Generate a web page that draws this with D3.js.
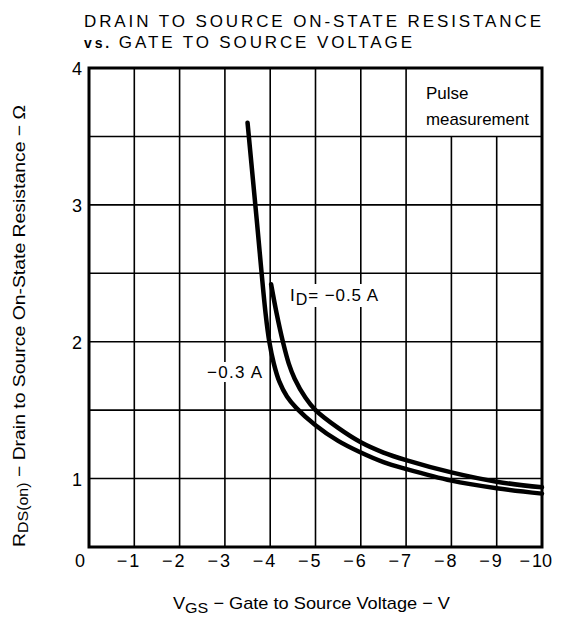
<!DOCTYPE html>
<html>
<head>
<meta charset="utf-8">
<script src="https://d3js.org/d3.v7.min.js"></script>
<style>
  body { margin: 0; background: #fff; }
  svg { display: block; font-family: "Liberation Sans", Arial, Helvetica, sans-serif; }
</style>
</head>
<body>
<svg id="chart" width="563" height="620"></svg>
<script>
// data
const vgsLow = [-3.5, -3.7, -3.9, -3.98, -4.08, -4.2, -4.37, -4.58, -5, -5.5, -6, -6.5, -7, -8, -9, -10];
const rdsLow = [3.6, 2.9, 2.2, 2.0, 1.84, 1.71, 1.6, 1.515, 1.39, 1.275, 1.19, 1.12, 1.07, 0.985, 0.93, 0.89];
const vgsHigh = [-4.02, -4.14, -4.28, -4.41, -4.54, -4.78, -5.0, -5.5, -6, -6.5, -7, -8, -9, -10];
const rdsHigh = [2.42, 2.21, 2.0, 1.84, 1.73, 1.59, 1.5, 1.37, 1.265, 1.19, 1.135, 1.045, 0.977, 0.936];
const xTicks = [0, -1, -2, -3, -4, -5, -6, -7, -8, -9, -10];
const yTicks = [1, 2, 3, 4];
const yGrid = [1, 1.5, 2, 2.5, 3, 3.5];

const svg = d3.select("#chart");
const pl = 89, pr = 542, pt = 68, pb = 547;

const x = d3.scaleLinear().domain([0, -10]).range([pl, pr]);
const y = d3.scaleLinear().domain([0.5, 4]).range([pb, pt]);

// title
svg.append("text").attr("x", 84).attr("y", 27)
  .attr("font-size", 17).attr("textLength", 457).attr("lengthAdjust", "spacing")
  .text("DRAIN TO SOURCE ON-STATE RESISTANCE");
const t2 = svg.append("text").attr("x", 84).attr("y", 48)
  .attr("font-size", 17).attr("textLength", 328).attr("lengthAdjust", "spacing");
t2.append("tspan").attr("font-size", 14).attr("font-weight", "bold").text("vs. ");
t2.append("tspan").text("GATE TO SOURCE VOLTAGE");

// grid
const grid = svg.append("g").attr("stroke", "#000").attr("stroke-width", 1.6);
grid.selectAll("line.h").data(yGrid).enter().append("line")
  .attr("x1", pl).attr("x2", pr)
  .attr("y1", d => y(d)).attr("y2", d => y(d));
grid.selectAll("line.v").data(xTicks.slice(1, 10)).enter().append("line")
  .attr("x1", d => x(d)).attr("x2", d => x(d))
  .attr("y1", d => d <= -8 ? y(3.5) : pt).attr("y2", pb);

// frame
svg.append("rect").attr("x", pl).attr("y", pt)
  .attr("width", pr - pl).attr("height", pb - pt)
  .attr("fill", "none").attr("stroke", "#000").attr("stroke-width", 3);

// curves
const line = d3.line().x(d => x(d[0])).y(d => y(d[1])).curve(d3.curveCatmullRom.alpha(0.5));
svg.append("path").datum(d3.zip(vgsLow, rdsLow))
  .attr("d", line).attr("fill", "none").attr("stroke", "#000")
  .attr("stroke-width", 4.5).attr("stroke-linecap", "round");
svg.append("path").datum(d3.zip(vgsHigh, rdsHigh))
  .attr("d", line).attr("fill", "none").attr("stroke", "#000")
  .attr("stroke-width", 4.5).attr("stroke-linecap", "round");

// curve labels with white backing
const lab05 = svg.append("g");
lab05.append("rect").attr("x", 287).attr("y", 284).attr("width", 96).attr("height", 23).attr("fill", "#fff");
const t05 = lab05.append("text").attr("x", 290).attr("y", 301).attr("font-size", 17)
  .attr("textLength", 88).attr("lengthAdjust", "spacing");
t05.append("tspan").text("I");
t05.append("tspan").attr("font-size", 16).attr("dy", 4).text("D");
t05.append("tspan").attr("dy", -4).text("= −0.5 A");

const lab03 = svg.append("g");
lab03.append("rect").attr("x", 205).attr("y", 362).attr("width", 60).attr("height", 20).attr("fill", "#fff");
lab03.append("text").attr("x", 207).attr("y", 378).attr("font-size", 17)
  .attr("textLength", 55).attr("lengthAdjust", "spacing").text("−0.3 A");

svg.append("text").attr("x", 426).attr("y", 99).attr("font-size", 17).text("Pulse");
svg.append("text").attr("x", 426).attr("y", 125).attr("font-size", 17)
  .attr("textLength", 103).attr("lengthAdjust", "spacingAndGlyphs").text("measurement");

// y tick labels
svg.selectAll("text.yt").data(yTicks).enter().append("text")
  .attr("x", 82).attr("y", d => y(d) + 7)
  .attr("text-anchor", "end").attr("font-size", 18)
  .text(d => d);

// x tick labels: digits centred on the grid line, minus sign before them
xTicks.forEach(v => {
  const xx = v === 0 ? x(v) - 9 : x(v);
  const t = svg.append("text").attr("x", xx).attr("y", 567)
    .attr("text-anchor", "middle").attr("font-size", 18)
    .text(Math.abs(v));
  if (v < 0) {
    const w = t.node().getComputedTextLength();
    svg.append("text").attr("x", xx - w / 2 - 2).attr("y", 567)
      .attr("text-anchor", "end").attr("font-size", 18).attr("fill", "#333")
      .text("−");
  }
});

// x axis title
const xt = svg.append("text").attr("x", 173).attr("y", 609).attr("font-size", 17)
  .attr("textLength", 277).attr("lengthAdjust", "spacingAndGlyphs");
xt.append("tspan").text("V");
xt.append("tspan").attr("font-size", 15).attr("dy", 4).text("GS");
xt.append("tspan").attr("dy", -4).text(" − Gate to Source Voltage − V");

// y axis title
const yt = svg.append("text")
  .attr("transform", "translate(25,547) rotate(-90)")
  .attr("font-size", 17)
  .attr("textLength", 442).attr("lengthAdjust", "spacingAndGlyphs");
yt.append("tspan").text("R");
yt.append("tspan").attr("font-size", 14).attr("dy", 3).text("DS(on)");
yt.append("tspan").attr("dy", -3).text(" − Drain to Source On-State Resistance − Ω");
</script>
</body>
</html>
